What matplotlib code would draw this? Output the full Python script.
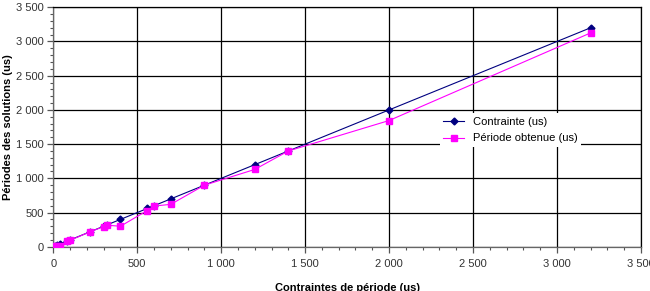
import matplotlib
matplotlib.use("Agg")
import matplotlib.pyplot as plt
from matplotlib.ticker import MultipleLocator, FuncFormatter

# values
contraintes = [0, 10, 20, 40, 80, 100, 220, 300, 320, 400, 560, 600, 700, 900, 1200, 1400, 2000, 3200]
periode_contrainte = [0, 10, 20, 40, 80, 100, 220, 300, 320, 400, 560, 600, 700, 900, 1200, 1400, 2000, 3200]
periode_obtenue = [0, 10, 15, 15, 80, 95, 220, 295, 315, 300, 530, 595, 620, 900, 1130, 1400, 1845, 3125]

labels = ["Contrainte (us)", "Période obtenue (us)"]

plt.rcParams['font.family'] = ['Liberation Sans', 'DejaVu Sans']

fig = plt.figure(figsize=(6.5, 2.91), dpi=100)
ax = fig.add_axes([0.082, 0.152, 0.904, 0.823])

ax.plot(contraintes, periode_contrainte, '-D', color='#000080', lw=0.8,
        markersize=3.5, label=labels[0], zorder=3)
ax.plot(contraintes, periode_obtenue, '-s', color='#FF00FF', lw=0.8,
        markersize=4.5, label=labels[1], zorder=4)

ax.set_xlim(0, 3500)
ax.set_ylim(0, 3500)
ax.xaxis.set_major_locator(MultipleLocator(500))
ax.yaxis.set_major_locator(MultipleLocator(500))
ax.xaxis.set_minor_locator(MultipleLocator(100))
ax.yaxis.set_minor_locator(MultipleLocator(100))

fmt = FuncFormatter(lambda v, p: f"{int(v):,}".replace(",", " "))
ax.xaxis.set_major_formatter(fmt)
ax.yaxis.set_major_formatter(fmt)

ax.grid(True, which='major', color='black', lw=0.9)
ax.tick_params(which='major', length=4, width=0.9, labelsize=8, color='#555555',
               labelcolor='#333333')
ax.tick_params(which='minor', length=2.5, width=0.8, color='#555555')
ax.tick_params(axis='x', pad=5)
ax.tick_params(axis='y', pad=3)
for s in ax.spines.values():
    s.set_color('black')
    s.set_linewidth(0.9)
ax.spines['left'].set_color('#666666')
ax.spines['bottom'].set_color('#666666')

ax.set_xlabel("Contraintes de période (us)", fontsize=8, fontweight='bold', labelpad=10)
ax.set_ylabel("Périodes des solutions (us)", fontsize=8, fontweight='bold', labelpad=2)

leg = ax.legend(loc='upper left', bbox_to_anchor=(0.648, 0.58), fontsize=8,
                frameon=True, fancybox=False, edgecolor='none', framealpha=1,
                handlelength=1.9, borderpad=0.3, labelspacing=0.6)
leg.set_zorder(5)

fig.savefig("out.png", dpi=100)
